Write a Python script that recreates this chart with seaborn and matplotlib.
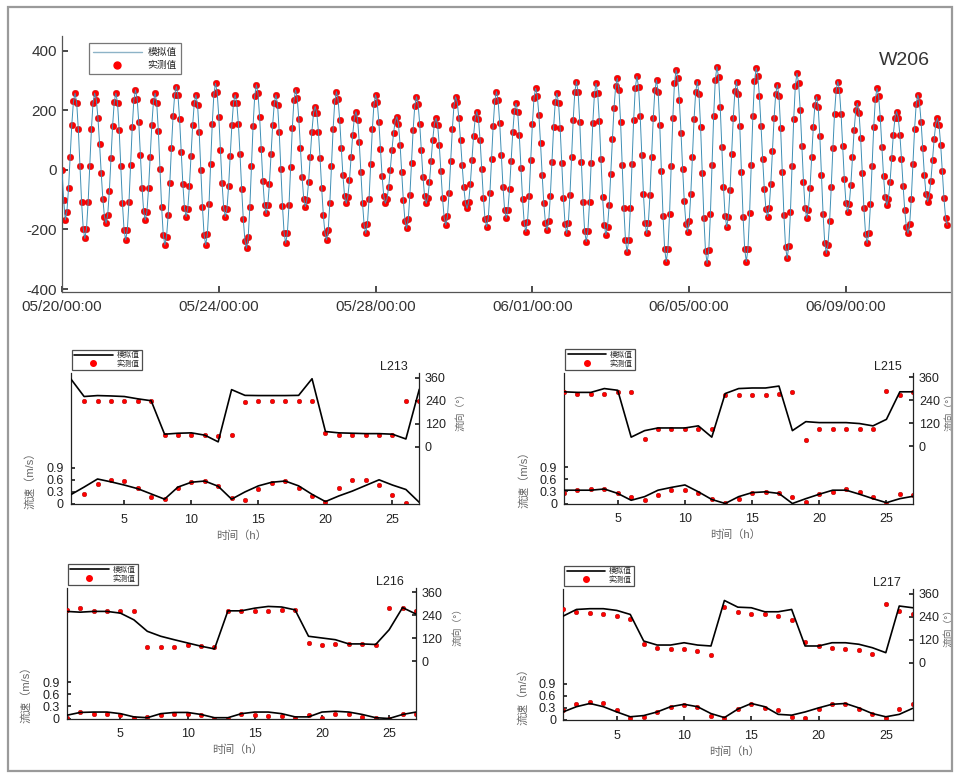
import numpy as np
import pandas as pd
import matplotlib
matplotlib.use("Agg")
import matplotlib.pyplot as plt
from matplotlib.patches import Rectangle
from matplotlib.lines import Line2D
import seaborn as sns

sns.set_theme(style="ticks")
plt.rcParams["font.family"] = ["Liberation Sans", "Noto Sans CJK SC", "DejaVu Sans"]
plt.rcParams["axes.unicode_minus"] = False

# ---------------- data: top panel (hourly tide level, W206) ----------------
station_top = "W206"
start_time = "2021-05-20 00:00"
tide_level = [
    0, -100, -168,
    -140, -62, 45, 152, 230, 258, 225, 136, 14, -108, -197, -230,
    -197, -108, 14, 136, 225, 258, 236, 176, 88, -9, -97, -157, -179,
    -150, -70, 40, 149, 229, 258, 225, 135, 12, -112, -202, -235,
    -201, -109, 17, 143, 235, 269, 240, 160, 50, -59, -139, -168,
    -140, -62, 45, 152, 230, 258, 224, 130, 3, -124, -218, -252,
    -225, -152, -45, 73, 180, 253, 280, 251, 171, 61, -48, -128, -157,
    -130, -55, 48, 150, 225, 252, 218, 126, 0, -126, -218, -252,
    -216, -116, 20, 155, 255, 291, 261, 179, 67, -45, -127, -157,
    -130, -55, 48, 150, 225, 252, 226, 155, 52, -63, -166, -237, -263,
    -226, -126, 12, 149, 249, 286, 257, 178, 70, -38, -117, -146,
    -119, -46, 53, 152, 225, 252, 219, 127, 3, -121, -213, -246,
    -211, -117, 11, 140, 234, 269, 243, 171, 73, -25, -97, -123,
    -100, -39, 45, 129, 190, 213, 191, 129, 39, -61, -151, -213, -235,
    -202, -110, 14, 138, 230, 263, 238, 169, 75, -18, -87, -112,
    -91, -35, 42, 119, 175, 196, 169, 94, -8, -111, -186, -213,
    -182, -97, 19, 136, 221, 252, 228, 161, 70, -21, -88, -112,
    -97, -57, 1, 66, 124, 164, 179, 154, 85, -8, -102, -171, -196,
    -166, -85, 25, 135, 216, 246, 222, 156, 67, -22, -88, -112,
    -93, -40, 31, 102, 155, 174, 150, 84, -5, -95, -161, -185,
    -156, -77, 30, 138, 217, 246, 227, 175, 100, 17, -58, -110, -129,
    -107, -48, 33, 115, 174, 196, 170, 99, 2, -94, -165, -191,
    -161, -77, 36, 149, 233, 263, 234, 157, 50, -56, -133, -162,
    -136, -65, 31, 127, 198, 224, 195, 116, 8, -99, -178, -207,
    -175, -87, 33, 154, 242, 274, 250, 184, 89, -17, -112, -178, -202,
    -171, -87, 28, 143, 227, 258, 226, 140, 22, -95, -181, -213,
    -179, -85, 42, 169, 263, 297, 261, 162, 28, -106, -205, -241,
    -205, -108, 25, 158, 255, 291, 257, 164, 36, -91, -184, -218,
    -192, -119, -13, 103, 209, 282, 308, 269, 162, 17, -129, -236, -275,
    -236, -128, 20, 167, 275, 314, 279, 182, 51, -81, -178, -213,
    -179, -84, 45, 173, 267, 302, 261, 150, -3, -156, -267, -308,
    -265, -147, 14, 175, 293, 336, 309, 234, 125, 4, -105, -180, -207,
    -173, -81, 45, 171, 263, 297, 256, 144, -9, -161, -273, -314,
    -270, -149, 17, 182, 303, 347, 311, 212, 78, -57, -155, -191,
    -158, -69, 53, 175, 264, 297, 256, 146, -6, -157, -267, -308,
    -264, -145, 17, 180, 298, 342, 317, 248, 148, 37, -63, -132, -157,
    -127, -46, 65, 175, 256, 286, 247, 140, -6, -151, -258, -297,
    -255, -142, 14, 170, 283, 325, 292, 203, 82, -40, -129, -162,
    -135, -60, 42, 144, 219, 246, 211, 115, -17, -149, -245, -280,
    -251, -172, -56, 73, 189, 268, 297, 268, 188, 79, -31, -111, -140,
    -116, -49, 42, 133, 200, 224, 193, 107, -11, -129, -215, -246,
    -211, -116, 14, 144, 239, 274, 248, 176, 78, -20, -92, -118,
    -97, -40, 39, 118, 175, 196, 176, 119, 37, -54, -136, -193, -213,
    -182, -97, 19, 136, 221, 252, 228, 162, 73, -16, -82, -106,
    -87, -36, 34, 104, 155, 174, 150, 84, -5, -95, -161, -185,
]
date_ticks = ["2021-05-20", "2021-05-24", "2021-05-28", "2021-06-01", "2021-06-05", "2021-06-09"]
date_tick_labels = ["05/20/00:00", "05/24/00:00", "05/28/00:00", "06/01/00:00", "06/05/00:00", "06/09/00:00"]
level_ticks = [-400, -200, 0, 200, 400]

# ---------------- data: bottom panels (hour 1..27) ----------------
hours_bottom = list(range(1, 28))
nan = float("nan")

l213_dir_sim = [355, 262, 267, 265, 262, 250, 240, 65, 70, 72, 60, 25, 298, 268, 267, 267, 267, 268, 355, 79, 72, 70, 68, 68, 65, 40, 300]
l213_dir_obs = [nan, 241, 241, 241, 241, 238, 238, 61, 61, 61, 61, 58, 61, 234, 241, 241, 241, 241, 237, 70, 61, 61, 61, 61, 61, 241, 241]
l213_spd_sim = [0.23, 0.42, 0.62, 0.55, 0.47, 0.38, 0.25, 0.12, 0.42, 0.54, 0.57, 0.44, 0.12, 0.30, 0.45, 0.54, 0.57, 0.45, 0.24, 0.06, 0.20, 0.32, 0.46, 0.60, 0.47, 0.36, 0.04]
l213_spd_obs = [nan, 0.26, 0.49, 0.60, 0.57, 0.40, 0.17, 0.12, 0.40, 0.55, 0.57, 0.44, 0.15, 0.09, 0.38, 0.51, 0.57, 0.40, 0.19, 0.06, 0.40, 0.60, 0.60, 0.46, 0.23, 0.02, nan]

l215_dir_sim = [284, 281, 281, 301, 292, 47, 81, 95, 95, 95, 106, 47, 275, 301, 304, 304, 314, 81, 128, 123, 123, 123, 118, 106, 140, 284, 284]
l215_dir_obs = [284, 270, 270, 270, 284, 281, 39, 90, 90, 90, 90, 90, 267, 267, 267, 267, 270, 281, 34, 90, 90, 90, 90, 90, 287, 267, 284]
l215_spd_sim = [0.33, 0.33, 0.33, 0.36, 0.25, 0.08, 0.17, 0.33, 0.40, 0.46, 0.29, 0.10, 0.00, 0.17, 0.27, 0.29, 0.25, 0.00, 0.12, 0.23, 0.33, 0.33, 0.23, 0.12, 0.02, 0.12, 0.18]
l215_spd_obs = [0.25, 0.33, 0.35, 0.35, 0.27, 0.15, 0.08, 0.21, 0.33, 0.33, 0.27, 0.12, 0.02, 0.12, 0.27, 0.29, 0.25, 0.17, 0.04, 0.23, 0.29, 0.35, 0.29, 0.17, 0.00, 0.23, 0.21]

l216_dir_sim = [260, 256, 260, 260, 251, 216, 156, 130, 112, 95, 78, 64, 263, 263, 277, 286, 283, 268, 130, 121, 112, 90, 90, 87, 164, 280, 246]
l216_dir_obs = [265, 277, 263, 263, 263, 263, 74, 74, 74, 83, 78, 73, 263, 260, 260, 260, 268, 268, 95, 83, 90, 87, 87, 83, 280, 277, 263]
l216_spd_sim = [0.08, 0.15, 0.16, 0.16, 0.12, 0.04, 0.02, 0.12, 0.15, 0.15, 0.10, 0.02, 0.02, 0.12, 0.16, 0.16, 0.12, 0.04, 0.04, 0.16, 0.18, 0.16, 0.10, 0.02, 0.00, 0.10, 0.16]
l216_spd_obs = [0.02, 0.16, 0.10, 0.10, 0.08, 0.02, 0.04, 0.08, 0.10, 0.12, 0.08, 0.00, 0.00, 0.10, 0.08, 0.07, 0.07, 0.02, 0.08, 0.02, 0.10, 0.10, 0.04, 0.02, 0.00, 0.10, 0.12]

l217_dir_sim = [243, 278, 282, 282, 273, 252, 113, 92, 92, 104, 92, 87, 325, 290, 287, 266, 266, 278, 87, 87, 104, 104, 96, 78, 52, 296, 287]
l217_dir_obs = [278, 266, 261, 256, 243, 226, 96, 78, 73, 70, 61, 40, 290, 266, 256, 252, 243, 221, 110, 87, 75, 70, 64, 47, 304, 270, 256]
l217_spd_sim = [0.20, 0.33, 0.41, 0.33, 0.20, 0.08, 0.11, 0.20, 0.33, 0.39, 0.33, 0.16, 0.06, 0.27, 0.41, 0.33, 0.14, 0.12, 0.20, 0.30, 0.39, 0.41, 0.30, 0.16, 0.08, 0.14, 0.29]
l217_spd_obs = [0.25, 0.39, 0.45, 0.41, 0.25, 0.04, 0.08, 0.20, 0.33, 0.37, 0.33, 0.11, 0.04, 0.27, 0.39, 0.29, 0.25, 0.08, 0.04, 0.27, 0.39, 0.39, 0.27, 0.14, 0.06, 0.27, 0.39]

speed_ticks = [0, 0.3, 0.6, 0.9]
speed_tick_labels = ["0", "0.3", "0.6", "0.9"]
dir_ticks = [0, 120, 240, 360]
hour_ticks = [5, 10, 15, 20, 25]

label_sim = "模拟值"
label_obs = "实测值"

# ---------------- figure ----------------
W, H = 958, 776
fig = plt.figure(figsize=(W / 100, H / 100), dpi=100)
fig.patch.set_facecolor("white")

def frac_rect(left, top, right, bottom):
    return [left / W, 1 - bottom / H, (right - left) / W, (bottom - top) / H]

# Top panel
ax0 = fig.add_axes(frac_rect(62, 36, 950, 292))
times = pd.date_range(start_time, periods=len(tide_level), freq="h")
sns.scatterplot(x=times, y=tide_level, ax=ax0, color="red", s=22,
                edgecolor="#C00000", linewidth=0.3, zorder=2, legend=False)
sns.lineplot(x=times, y=tide_level, ax=ax0, color="#3F8FB5", lw=0.7,
             zorder=3, legend=False)
ax0.set_xlim(times[0], times[0] + pd.Timedelta(hours=543.7))
ax0.set_ylim(-410, 450)
ax0.set_yticks(level_ticks)
ax0.set_xticks(pd.to_datetime(date_ticks))
ax0.set_xticklabels(date_tick_labels)
ax0.tick_params(axis="both", direction="in", length=4, labelsize=11,
                colors="#333333", bottom=True, left=True)
ax0.tick_params(axis="x", pad=6)
for s in ["top", "right"]:
    ax0.spines[s].set_visible(False)
for s in ["left", "bottom"]:
    ax0.spines[s].set_color("#555555")
    ax0.spines[s].set_linewidth(0.9)
ax0.set_xlabel("")
ax0.set_ylabel("")
ax0.text(0.949, 0.906, station_top, transform=ax0.transAxes, ha="center",
         va="center", fontsize=14, color="#333333")
top_handles = [Line2D([], [], color="#8DB3C7", lw=1.0),
               Line2D([], [], ls="none", marker="o", color="red", ms=5)]
leg0 = ax0.legend(top_handles, [label_sim, label_obs], loc="upper left",
                  bbox_to_anchor=(0.025, 0.99), fontsize=7, handlelength=5,
                  frameon=True, fancybox=False, borderpad=0.4,
                  labelspacing=0.3, handletextpad=0.6)
leg0.get_frame().set_edgecolor("#555555")
leg0.get_frame().set_linewidth(0.9)

panels = [
    ("L213", frac_rect(70.7, 373, 419.3, 504), 1.105, l213_dir_sim, l213_dir_obs, l213_spd_sim, l213_spd_obs),
    ("L215", frac_rect(564, 372.5, 913.3, 503.5), 1.088, l215_dir_sim, l215_dir_obs, l215_spd_sim, l215_spd_obs),
    ("L216", frac_rect(66.7, 587.5, 416, 718.5), 1.105, l216_dir_sim, l216_dir_obs, l216_spd_sim, l216_spd_obs),
    ("L217", frac_rect(563, 589, 912.7, 720), 1.088, l217_dir_sim, l217_dir_obs, l217_spd_sim, l217_spd_obs),
]

for name, rect, rlab_x, dsim, dobs, ssim, sobs in panels:
    ax = fig.add_axes(rect)
    ax2 = ax.twinx()
    # speed (left axis)
    sns.scatterplot(x=hours_bottom, y=sobs, ax=ax, color="red", s=11,
                    edgecolor="#990000", linewidth=0.3, zorder=2, legend=False)
    sns.lineplot(x=hours_bottom, y=ssim, ax=ax, color="black", lw=1.2,
                 zorder=3, legend=False)
    # direction (right axis)
    sns.scatterplot(x=hours_bottom, y=dobs, ax=ax2, color="red", s=11,
                    edgecolor="#990000", linewidth=0.3, zorder=2, legend=False)
    sns.lineplot(x=hours_bottom, y=dsim, ax=ax2, color="black", lw=1.2,
                 zorder=3, legend=False)

    ax.set_xlim(1, 27)
    ax.set_ylim(0, 3.25)
    ax2.set_ylim(-300, 385)
    ax.set_xticks(hour_ticks)
    ax.set_yticks(speed_ticks)
    ax.set_yticklabels(speed_tick_labels)
    ax2.set_yticks(dir_ticks)
    ax.tick_params(axis="both", direction="in", length=3, labelsize=9,
                   colors="#222222", bottom=True, left=True, pad=5)
    ax.tick_params(axis="x", pad=7)
    ax2.tick_params(axis="y", direction="in", length=3, labelsize=9,
                    colors="#222222", right=True, pad=4)
    for a in (ax, ax2):
        a.spines["top"].set_visible(False)
        for s in ["left", "right", "bottom"]:
            a.spines[s].set_color("#222222")
            a.spines[s].set_linewidth(0.9)
    ax.spines["right"].set_visible(False)
    ax2.spines["left"].set_visible(False)
    ax2.spines["bottom"].set_visible(False)

    ax.set_xlabel("时间（h）", fontsize=8, color="#666666")
    ax.xaxis.set_label_coords(0.49, -0.2)
    ax.set_ylabel("流速（m/s）", fontsize=8, color="#666666")
    ax.yaxis.set_label_coords(-0.1, 0.2)
    ax2.set_ylabel("流向（°）", fontsize=7, color="#666666", rotation=90)
    ax2.yaxis.set_label_coords(rlab_x, 0.72)

    ax.text(0.966, 1.045, name, transform=ax.transAxes, ha="right",
            va="center", fontsize=9, color="#222222")

    handles = [Line2D([], [], color="black", lw=1.2),
               Line2D([], [], ls="none", marker="o", color="red", ms=4)]
    leg = ax2.legend(handles, [label_sim, label_obs], loc="lower left",
                     bbox_to_anchor=(0.004, 1.02), fontsize=5.5,
                     handlelength=5, frameon=True, fancybox=False,
                     borderpad=0.3, labelspacing=0.15, handletextpad=0.5,
                     borderaxespad=0.0)
    leg.get_frame().set_edgecolor("#222222")
    leg.get_frame().set_linewidth(0.9)

# outer gray frame
fig.patches.append(Rectangle((8 / W, 1 - 771 / H), (952 - 8) / W, (771 - 7) / H,
                             transform=fig.transFigure, fill=False,
                             edgecolor="#9a9a9a", lw=1.6))

fig.savefig("out.png", dpi=100)
